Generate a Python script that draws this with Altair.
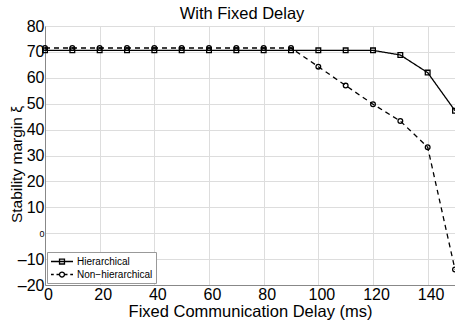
import altair as alt
import pandas as pd

delay = [0, 10, 20, 30, 40, 50, 60, 70, 80, 90, 100, 110, 120, 130, 140, 150]
hier = [70.6, 70.6, 70.6, 70.6, 70.6, 70.6, 70.6, 70.6, 70.6, 70.6, 70.6, 70.6, 70.6, 68.8, 62.0, 47.3]
nonhier = [71.5, 71.5, 71.5, 71.5, 71.5, 71.5, 71.5, 71.5, 71.5, 71.5, 64.3, 57.0, 49.8, 43.3, 33.2, -14.0]
series_names = ["Hierarchical", "Non\u2212hierarchical"]

rows = []
for d, h, n in zip(delay, hier, nonhier):
    rows.append({"delay": d, "margin": h, "series": series_names[0]})
    rows.append({"delay": d, "margin": n, "series": series_names[1]})
df = pd.DataFrame(rows)

FONT = "Liberation Sans"

x = alt.X("delay:Q", scale=alt.Scale(domain=[0, 150], nice=False),
          axis=alt.Axis(title="Fixed Communication Delay (ms)", values=list(range(0, 141, 20)),
                        labelFontSize=16, titleFontSize=16.5, labelPadding=1, titlePadding=1,
                        tickSize=0, labelFlush=False, labelOffset=3, titleFontWeight="normal"))
y = alt.Y("margin:Q", scale=alt.Scale(domain=[-20, 80], nice=False),
          axis=alt.Axis(title="Stability margin \u03be", values=list(range(-20, 81, 10)),
                        labelFontSize=alt.ExprRef(expr="datum.value == 0 ? 9 : 16"),
                        titleFontSize=15.5, labelPadding=1, tickSize=0,
                        labelFlush=False, titleFontWeight="normal",
                        titleX=-21, titleY=138,
                        labelExpr="replace(datum.label, '\u2212', '\u2013')"))

dash_scale = alt.Scale(domain=series_names, range=[[1, 0], [5, 4]])
shape_scale = alt.Scale(domain=series_names, range=["square", "circle"])
legend_paths = [
    "M-2,0H2M-0.45,-0.45H0.45V0.45H-0.45Z",
    "M-2,0H-1.5M-1,0H-0.5M0.5,0H1M1.5,0H2"
    "M0.45,0A0.45,0.45 0 1,1 -0.45,0A0.45,0.45 0 1,1 0.45,0Z",
]
legend_shape_scale = alt.Scale(domain=series_names, range=legend_paths)

legend = alt.Legend(title=None, orient="bottom-left", offset=2, fillColor="white",
                    strokeColor="#999", padding=3, labelFontSize=10, symbolStrokeWidth=1.3,
                    symbolSize=121, symbolOpacity=1, symbolStrokeColor="black",
                    symbolFillColor="transparent", rowPadding=1, labelFont=FONT,
                    labelOffset=8.5, symbolOffset=5.5, labelColor="black")

base = alt.Chart(df).encode(x=x, y=y)

lines = base.mark_line(strokeWidth=1.3, color="black").encode(
    strokeDash=alt.StrokeDash("series:N", scale=dash_scale, legend=None),
    detail="series:N",
)
points = base.mark_point(filled=False, size=22, strokeWidth=1.3, color="black", opacity=1).encode(
    shape=alt.Shape("series:N", scale=shape_scale, legend=None),
)
legend_layer = base.mark_point(filled=False, size=121, strokeWidth=1.3, color="black",
                               opacity=0).encode(
    shape=alt.Shape("series:N", scale=legend_shape_scale, legend=legend),
)

chart = alt.layer(lines, points, legend_layer).resolve_scale(
    shape="independent"
).properties(
    width=410, height=259,
    title=alt.Title("With Fixed Delay", fontSize=16.5, fontWeight="normal", font=FONT,
                    offset=-4, dx=-8, color="black"),
    autosize=alt.AutoSizeParams(type="none"),
    padding={"left": 45, "top": 26, "right": 0, "bottom": 39},
).configure_axis(
    grid=True, gridColor="#888", gridDash=[1, 2], gridWidth=1, gridOpacity=1,
    domain=False, labelFont=FONT, titleFont=FONT, labelColor="black", titleColor="black",
).configure_view(
    stroke="black", strokeWidth=1.3
).configure(font=FONT)

chart.save("out.html", embed_options={"renderer": "svg", "actions": False})
